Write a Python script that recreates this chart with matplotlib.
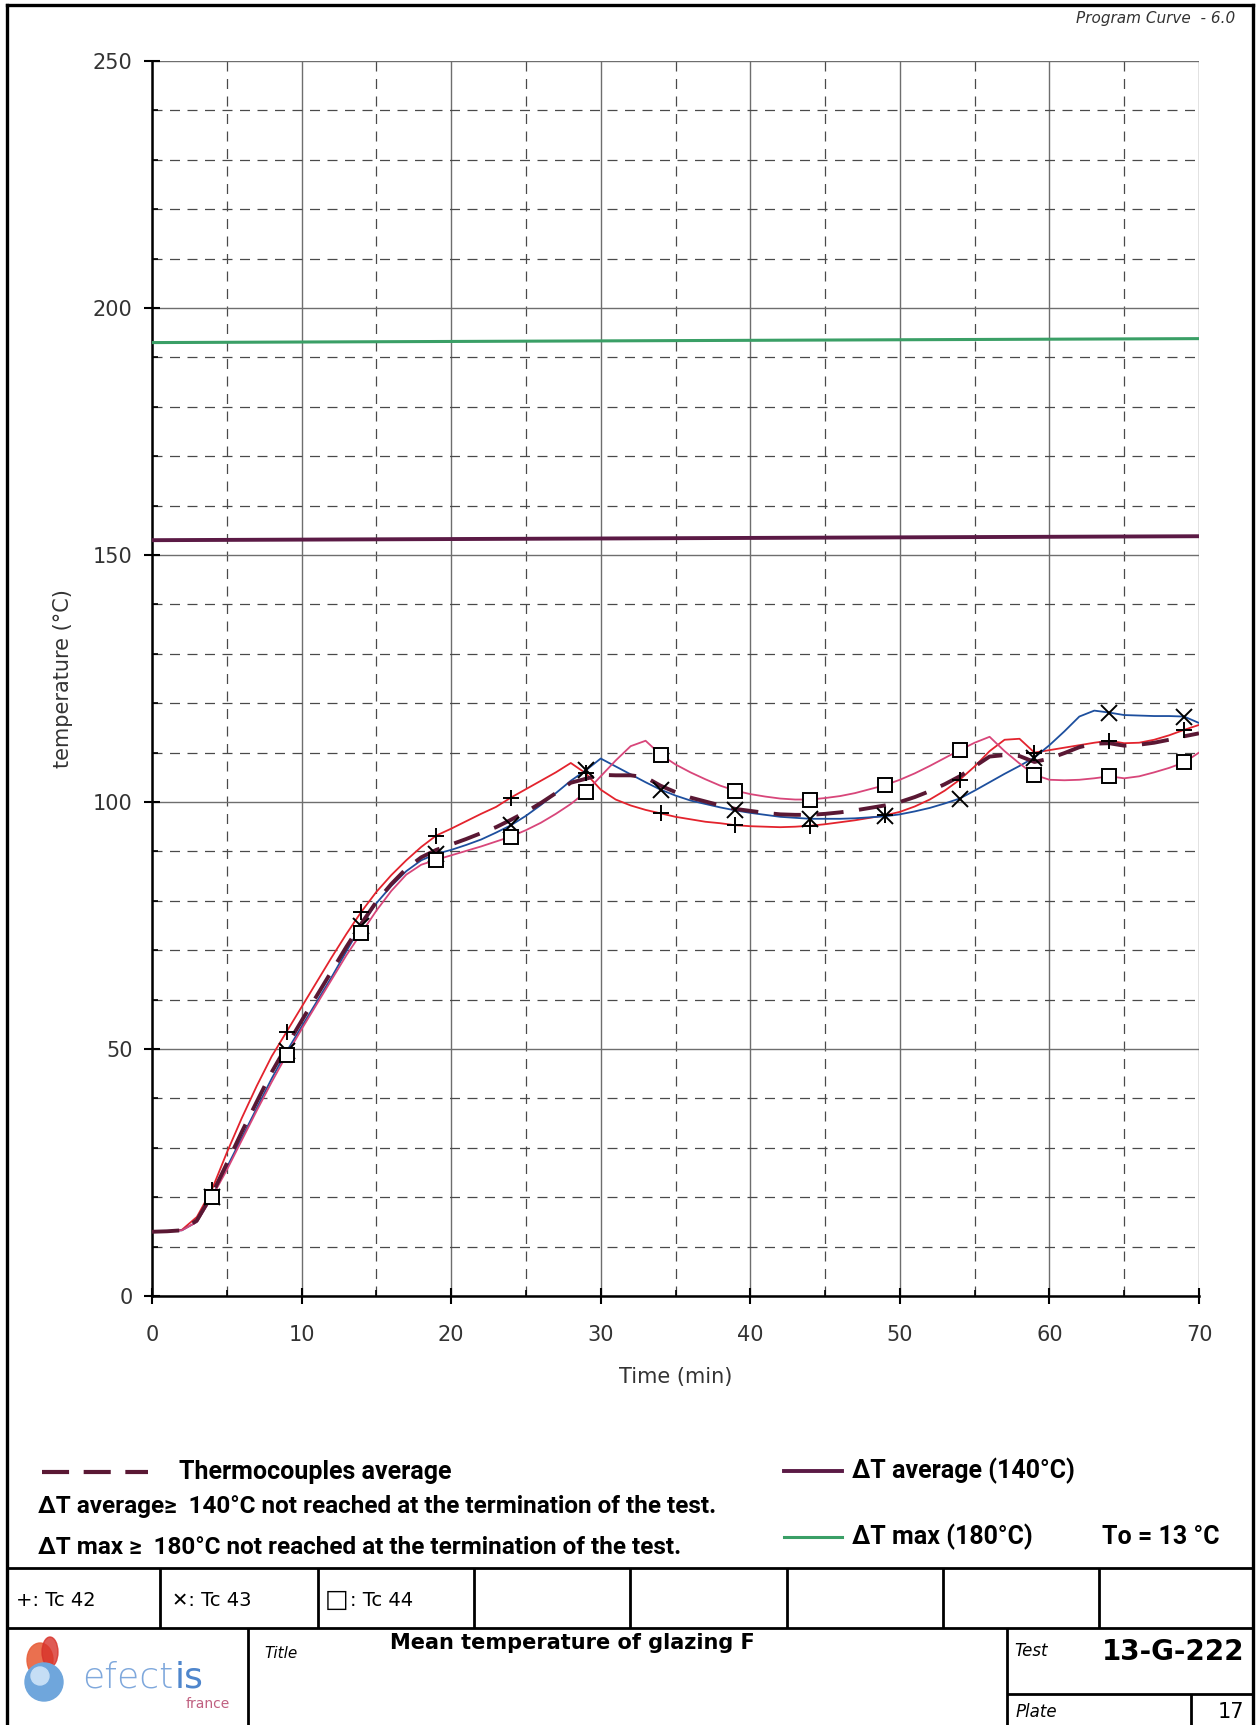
import matplotlib

matplotlib.use("Agg")
import matplotlib.pyplot as plt
from matplotlib.patches import Circle, Ellipse

plt.rcParams["font.family"] = ["DejaVu Sans"]

# ---- data (temperature in degC, one value per minute) ----
time_min = list(range(71))

tc42 = [13.0, 13.1, 13.4, 16.0, 21.5, 29.0, 36.0, 42.5, 48.5, 53.5,
        58.5, 63.5, 68.5, 73.3, 77.8, 81.8, 85.2, 88.2, 90.9, 93.2,
        94.6, 96.1, 97.6, 99.0, 100.9, 102.6, 104.3, 106.0, 107.9, 105.8,
        102.5, 100.5, 99.3, 98.4, 97.7, 97.0, 96.5, 96.0, 95.7, 95.3,
        95.1, 95.0, 94.9, 95.0, 95.2, 95.5, 95.9, 96.3, 96.8, 97.3,
        98.0, 99.1, 100.5, 102.3, 104.5, 107.2, 110.3, 112.6, 112.8, 110.0,
        110.5, 111.0, 111.5, 112.0, 112.4, 111.9, 112.0, 112.6, 113.5, 114.6,
        115.6]

tc43 = [13.0, 13.1, 13.3, 15.0, 20.0, 26.0, 32.0, 38.0, 44.0, 49.5,
        54.5, 59.5, 64.5, 69.8, 75.0, 79.5, 83.0, 86.0, 88.2, 89.5,
        90.3, 91.3, 92.4, 93.8, 95.3, 97.2, 99.4, 101.8, 104.3, 106.4,
        108.8, 107.2, 105.6, 104.0, 102.5, 101.3, 100.3, 99.6, 98.9, 98.3,
        97.8, 97.4, 97.0, 96.8, 96.6, 96.6, 96.6, 96.7, 96.9, 97.1,
        97.5, 98.1, 98.8, 99.7, 100.7, 102.3, 104.0, 105.7, 107.3, 109.0,
        111.5, 114.3, 117.3, 118.5, 118.1, 117.6, 117.5, 117.4, 117.4, 117.3,
        116.0]

tc44 = [13.0, 13.1, 13.3, 15.0, 20.0, 25.5, 31.5, 37.5, 43.3, 48.8,
        54.0, 59.0, 64.0, 69.0, 73.5, 78.0, 82.0, 85.3, 87.3, 88.3,
        89.2, 90.1, 91.0, 92.0, 93.0, 94.3, 95.8, 97.6, 99.6, 102.0,
        105.2, 108.4, 111.3, 112.4, 109.6, 107.6, 106.0, 104.6, 103.3, 102.3,
        101.6, 101.1, 100.7, 100.5, 100.5, 100.8, 101.2, 101.8, 102.6, 103.4,
        104.5, 105.8, 107.3, 108.9, 110.5, 112.0, 113.2, 110.3, 107.8, 105.5,
        104.5, 104.4, 104.5, 104.8, 105.2, 104.8, 105.2, 106.0, 106.9, 108.0,
        110.0]

tc_average = [13.0, 13.1, 13.3, 15.3, 20.5, 26.8, 33.2, 39.3, 45.3, 50.6,
              55.7, 60.7, 65.7, 70.7, 75.4, 79.8, 83.4, 86.5, 88.8, 90.3,
              91.4, 92.5, 93.7, 94.9, 96.4, 98.0, 99.8, 101.8, 103.9, 104.7,
              105.5, 105.4, 105.4, 105.0, 103.3, 102.0, 100.9, 100.1, 99.3, 98.6,
              98.2, 97.8, 97.5, 97.4, 97.4, 97.6, 97.9, 98.3, 98.8, 99.3,
              100.0, 101.0, 102.2, 103.6, 105.2, 107.2, 109.2, 109.5, 109.3, 108.1,
              108.8, 109.9, 111.1, 111.8, 111.9, 111.4, 111.6, 112.0, 112.6, 113.3,
              113.9]

limit_time = [0, 70]
dt_average_limit = [153.0, 153.8]
dt_max_limit = [193.0, 193.8]

series_colors = {"tc42": "#e3232d", "tc43": "#1d4f9e", "tc44": "#d8467a"}
avg_color = "#5a1834"
dt_avg_color = "#5b1a45"
dt_max_color = "#3a9f66"

W, H = 1256, 1725
fig = plt.figure(figsize=(W / 100, H / 100), dpi=100)
ax = fig.add_axes([152 / W, 1 - 1296 / H, 1047 / W, 1235 / H])

ax.plot(limit_time, dt_max_limit, color=dt_max_color, lw=2.2, zorder=3)
ax.plot(limit_time, dt_average_limit, color=dt_avg_color, lw=2.8, zorder=3)

ax.plot(time_min, tc42, color=series_colors["tc42"], lw=1.3, zorder=4)
ax.plot(time_min, tc43, color=series_colors["tc43"], lw=1.3, zorder=4)
ax.plot(time_min, tc44, color=series_colors["tc44"], lw=1.3, zorder=4)
ax.plot(time_min, tc_average, color=avg_color, lw=2.8, linestyle=(0, (7, 4)), zorder=5)

marks = slice(4, None, 5)
ax.plot(time_min, tc42, ls="none", marker="+", markevery=marks, ms=12, mew=1.4, color="black", zorder=6)
ax.plot(time_min, tc43, ls="none", marker="x", markevery=marks, ms=11, mew=1.4, color="black", zorder=6)
ax.plot(time_min, tc44, ls="none", marker="s", markevery=marks, ms=10, mew=1.4,
        mfc="white", mec="black", zorder=6)

ax.set_xlim(0, 70)
ax.set_ylim(0, 250)
ax.set_xticks(range(0, 71, 10))
ax.set_xticks(range(0, 71, 5), minor=True)
ax.set_yticks(range(0, 251, 50))
ax.set_yticks(range(0, 251, 10), minor=True)
ax.grid(which="major", color="#6e6e6e", lw=1.0)
ax.grid(which="minor", color="#4a4a4a", lw=0.9, linestyle=(0, (8, 6)))
ax.set_axisbelow(True)
for side in ("top", "right"):
    ax.spines[side].set_visible(False)
for side in ("left", "bottom"):
    ax.spines[side].set_linewidth(1.8)
    ax.spines[side].set_color("black")
ax.tick_params(which="major", direction="inout", length=12, width=1.5, labelsize=15,
               labelcolor="#333333")
ax.tick_params(axis="y", which="major", pad=8)
ax.tick_params(axis="x", which="major", pad=15)
ax.tick_params(which="minor", direction="in", length=4, width=1.2)

ax.set_ylabel("temperature (°C)", fontsize=15, color="#333333")
ax.yaxis.set_label_coords(-0.085, 0.5)
ax.yaxis.label.set_va("center")
ax.set_xlabel("Time (min)", fontsize=15, color="#333333")
ax.xaxis.set_label_coords(0.5, -0.0656)
ax.xaxis.label.set_va("center")

# ---- page frame, legend and title block (pixel coordinates) ----
pg = fig.add_axes([0, 0, 1, 1])
pg.set_xlim(0, W)
pg.set_ylim(H, 0)
pg.axis("off")
pg.patch.set_alpha(0)


def right_edge(txt):
    """Right end of a text object in page pixel coordinates."""
    fig.canvas.draw()
    bb = txt.get_window_extent().transformed(pg.transData.inverted())
    return max(bb.x0, bb.x1)


frame_kw = dict(color="black", lw=2.0, solid_capstyle="butt")
pg.plot([7, 7], [5, H], color="black", lw=2.4)
pg.plot([1253, 1253], [5, H], color="black", lw=2.4)
pg.plot([7, 1253], [5, 5], color="black", lw=2.4)
pg.plot([7, 1253], [1568, 1568], **frame_kw)
pg.plot([7, 1253], [1628, 1628], **frame_kw)
for xc in [160, 318, 474, 630, 787, 943, 1099]:
    pg.plot([xc, xc], [1568, 1628], **frame_kw)
pg.plot([248, 248], [1628, H], **frame_kw)
pg.plot([1007, 1007], [1628, H], **frame_kw)
pg.plot([1007, 1253], [1694, 1694], **frame_kw)
pg.plot([1191, 1191], [1694, H], **frame_kw)

pg.text(1235, 18, "Program Curve  - 6.0", ha="right", va="center", fontsize=11,
        style="italic", color="#333333")

bold_family = ["Roboto", "DejaVu Sans"]
leg_size = 18
pg.plot([42, 148], [1472, 1472], color=avg_color, lw=3.0, linestyle=(0, (6.5, 3.5)))
pg.text(179, 1472, "Thermocouples average", ha="left", va="center", fontsize=leg_size,
        fontweight="bold", family=bold_family)
pg.text(38, 1506, "ΔT average≥  140°C not reached at the termination of the test.",
        ha="left", va="center", fontsize=17.5, fontweight="bold", family=bold_family)
pg.text(38, 1547, "ΔT max ≥  180°C not reached at the termination of the test.",
        ha="left", va="center", fontsize=17.5, fontweight="bold", family=bold_family)
pg.plot([784, 842], [1471, 1471], color=dt_avg_color, lw=2.8)
pg.text(852, 1471, "ΔT average (140°C)", ha="left", va="center", fontsize=leg_size,
        fontweight="bold", family=bold_family)
pg.plot([784, 842], [1537, 1537], color=dt_max_color, lw=2.2)
pg.text(852, 1537, "ΔT max (180°C)", ha="left", va="center", fontsize=leg_size,
        fontweight="bold", family=bold_family)
pg.text(1102, 1537, "To = 13 °C", ha="left", va="center", fontsize=leg_size,
        fontweight="bold", family=bold_family)

pg.text(16, 1600, "+: Tc 42", ha="left", va="center", fontsize=14)
pg.text(172, 1600, "✕: Tc 43", ha="left", va="center", fontsize=14)
box_sym = pg.text(325, 1600, "□", ha="left", va="center", fontsize=18)
pg.text(right_edge(box_sym) + 1, 1600, ": Tc 44", ha="left", va="center", fontsize=14)

# efectis logo
pg.add_patch(Ellipse((40, 1660), 26, 34, color="#e8603c", alpha=0.9))
pg.add_patch(Ellipse((50, 1652), 16, 30, color="#d8322a", alpha=0.8))
pg.add_patch(Circle((44, 1682), 19, color="#6fa6dc"))
pg.add_patch(Circle((40, 1676), 9, color="#c5def5"))
logo_a = pg.text(82, 1677, "efect", ha="left", va="center", fontsize=26,
                 fontweight="light", color="#7fa8dc")
pg.text(right_edge(logo_a) + 1, 1677, "is", ha="left", va="center", fontsize=26,
        color="#4f86cc")
pg.text(230, 1704, "france", ha="right", va="center", fontsize=10, color="#c06080")

pg.text(264, 1653, "Title", ha="left", va="center", fontsize=11, style="italic")
pg.text(390, 1643, "Mean temperature of glazing F", ha="left", va="center", fontsize=15,
        fontweight="bold")
pg.text(1014, 1651, "Test", ha="left", va="center", fontsize=12, style="italic")
pg.text(1244, 1652, "13-G-222", ha="right", va="center", fontsize=20, fontweight="bold")
pg.text(1016, 1712, "Plate", ha="left", va="center", fontsize=12, style="italic")
pg.text(1244, 1712, "17", ha="right", va="center", fontsize=15)

fig.savefig("out.png", dpi=100)
